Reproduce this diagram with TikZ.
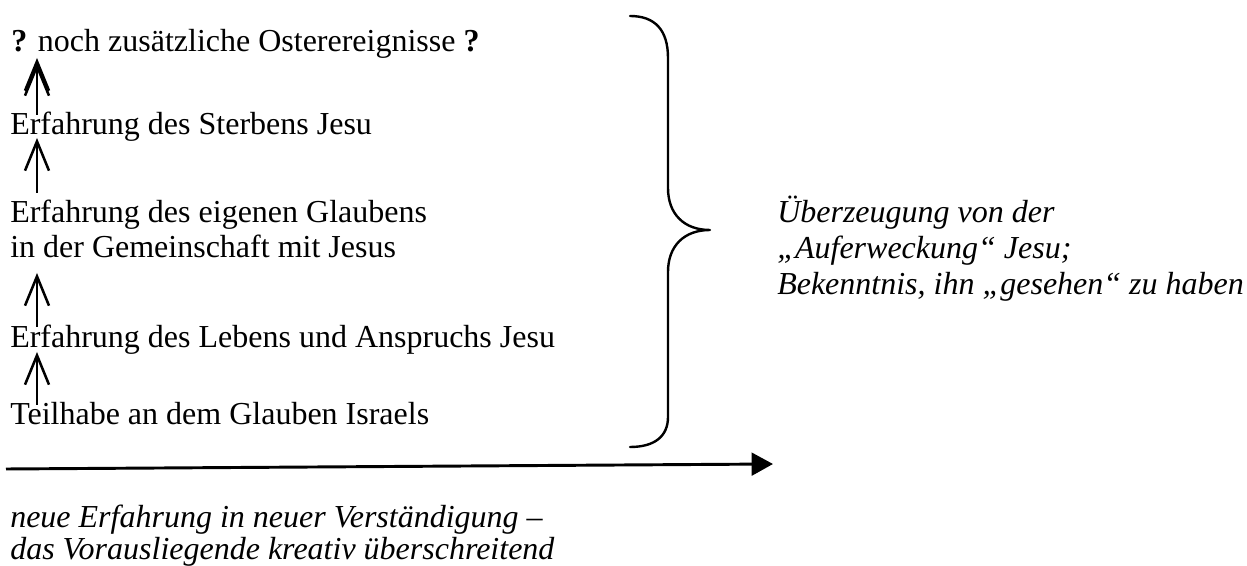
\documentclass[tikz,border=0pt]{standalone}
\usepackage{fontspec}
\setmainfont{Liberation Serif}
\usetikzlibrary{arrows.meta}
\begin{document}
\begin{tikzpicture}[x=0.75pt,y=-0.75pt,
  txt/.style={anchor=base west,inner sep=0pt,font=\fontsize{24pt}{29pt}\selectfont},
  itxt/.style={anchor=base west,inner sep=0pt,font=\fontsize{24pt}{29pt}\selectfont\itshape},
  uparrow/.style={line width=1.9pt,-{Straight Barb[length=22pt,width=18pt,line width=1.9pt]}},
  timearrow/.style={line width=2.2pt,-{Triangle[length=16pt,width=17pt]}},
  bracestyle/.style={line width=1.8pt,line join=round,line cap=round}]
\useasboundingbox (0,0) rectangle (1247,566);

% left column
\node[txt] (t1) at (11,52) {\textbf{?} noch zusätzliche Osterereignisse \textbf{?}};
\node[txt] (t2) at (10,135) {Erfahrung des Sterbens Jesu};
\node[txt] (t3) at (10,223) {Erfahrung des eigenen Glaubens};
\node[txt] (t4) at (10,258) {in der Gemeinschaft mit Jesus};
\node[txt] (t5) at (10,348) {Erfahrung des Lebens und Anspruchs Jesu};
\node[txt] (t6) at (10,425) {Teilhabe an dem Glauben Israels};

% arrows between the lines
\coordinate (a1s) at (37,115);
\coordinate (a1e) at (37,58);
\coordinate (a1f) at (37,63);
\coordinate (a2s) at (37,193);
\coordinate (a2e) at (37,138);
\coordinate (a3s) at (37,327);
\coordinate (a3e) at (37,273);
\coordinate (a4s) at (37,405);
\coordinate (a4e) at (37,352);
\draw[uparrow] (a1s) -- (a1e);
\draw[uparrow] (a1s) -- (a1f);
\draw[uparrow] (a2s) -- (a2e);
\draw[uparrow] (a3s) -- (a3e);
\draw[uparrow] (a4s) -- (a4e);

% brace
\coordinate (bt) at (630,16);
\coordinate (bm) at (710,230);
\coordinate (bb) at (630,447);
\draw[bracestyle] (bt) .. controls (655,16) and (668,30) .. (668,58)
  -- (668,188) .. controls (668,214) and (684,230) .. (bm)
  .. controls (684,230) and (668,246) .. (668,272)
  -- (668,417) .. controls (668,436) and (655,447) .. (bb);

% right text
\node[itxt] (r1) at (777,223) {Überzeugung von der};
\node[itxt] (r2) at (777,259) {„Auferweckung“ Jesu;};
\node[itxt] (r3) at (777,295) {Bekenntnis, ihn „gesehen“ zu haben};

% time arrow
\coordinate (h0) at (6,469);
\coordinate (h1) at (773,464);
\draw[timearrow] (h0) -- (h1);

% bottom text
\node[itxt] (b1) at (10,528) {neue Erfahrung in neuer Verständigung –};
\node[itxt] (b2) at (10,560) {das Vorausliegende kreativ überschreitend};
\end{tikzpicture}
\end{document}
